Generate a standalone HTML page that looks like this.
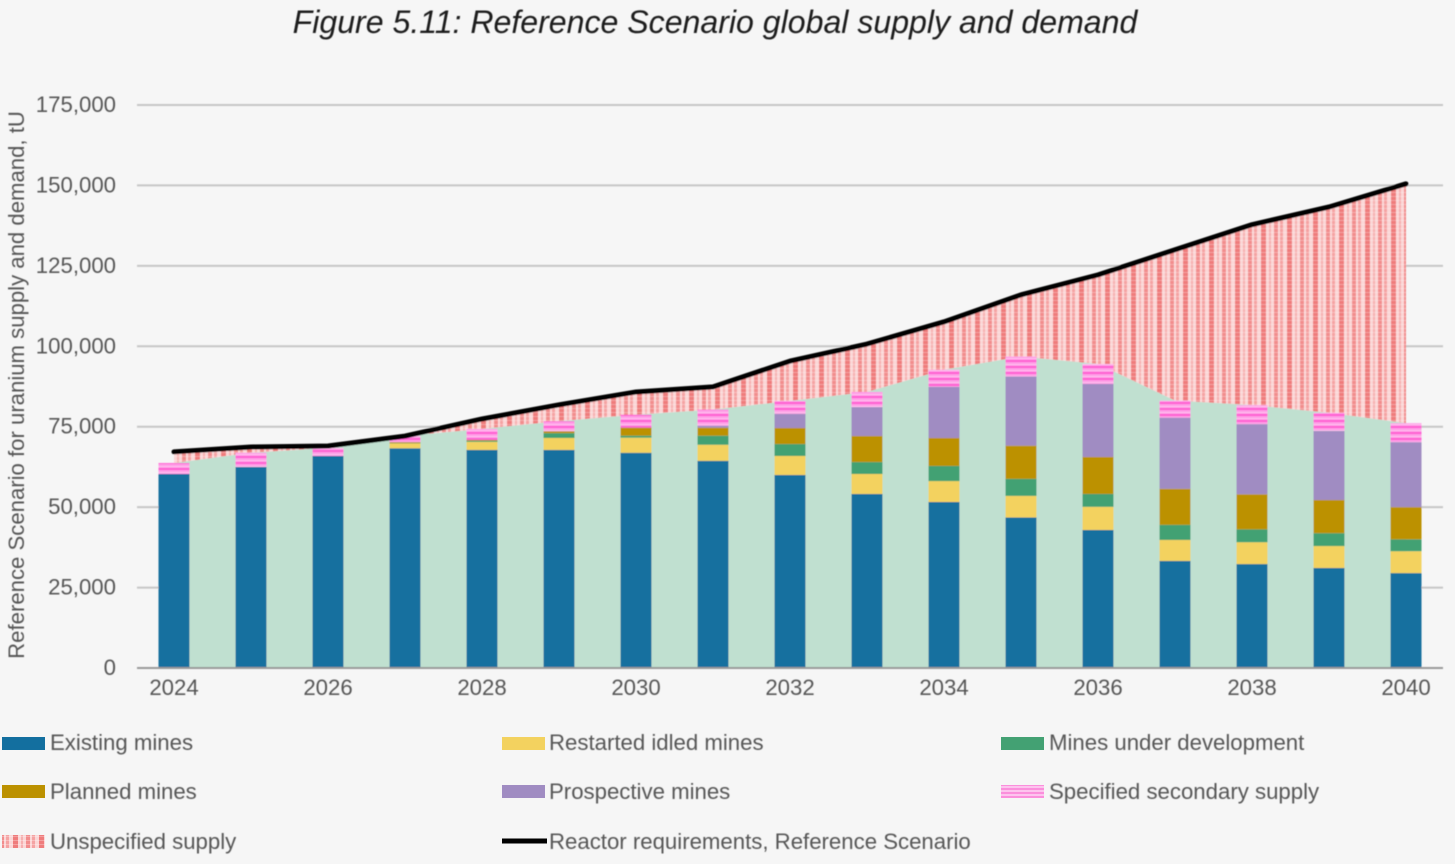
<!DOCTYPE html>
<html lang="en">
<head>
<meta charset="utf-8">
<title>Figure 5.11: Reference Scenario global supply and demand</title>
<style>
html,body{margin:0;padding:0;background:#f6f6f6;width:1455px;height:864px;overflow:hidden}
svg{display:block;font-family:"Liberation Sans",sans-serif}
.lbl{fill:#565656;font-size:22.2px;filter:url(#soft)}
</style>
</head>
<body>
<svg id="chart" width="1455" height="864" viewBox="0 0 1455 864" xmlns="http://www.w3.org/2000/svg">
<defs>
<filter id="soft" x="-5%" y="-30%" width="110%" height="160%"><feGaussianBlur stdDeviation="0.5"/></filter>
<filter id="softer" x="-2%" y="-2%" width="104%" height="104%"><feGaussianBlur stdDeviation="0.55"/></filter>
<pattern id="unspecified-pattern" patternUnits="userSpaceOnUse" width="26" height="4">
<rect width="26" height="4" fill="#fbd6d6"/>
<rect x="0" width="4" height="4" fill="#f28d8d"/>
<rect x="6" width="3" height="4" fill="#f5a3a3"/>
<rect x="13" width="5" height="4" fill="#ef7c7c"/>
<rect x="21" width="2" height="4" fill="#f6b0b0"/>
<rect x="0" y="0" width="26" height="1" fill="#fff" opacity=".28"/>
</pattern>
<pattern id="secondary-pattern" patternUnits="userSpaceOnUse" width="10" height="6">
<rect width="10" height="6" fill="#ff9be6"/>
<rect y="0" width="10" height="2" fill="#ff5ed2"/>
<rect y="4" width="10" height="1" fill="#ffc0ee"/>
</pattern>
<pattern id="secondary-legend-pattern" patternUnits="userSpaceOnUse" width="10" height="4">
<rect width="10" height="4" fill="#fdc4ee"/>
<rect y="0" width="10" height="2" fill="#fb8fdc"/>
</pattern>
</defs>
<rect width="1455" height="864" fill="#f6f6f6"/>
<text x="715" y="33" text-anchor="middle" font-size="32.1" font-style="italic" fill="#1c1c1c" filter="url(#soft)">Figure 5.11: Reference Scenario global supply and demand</text>
<text class="lbl" transform="translate(24,385) rotate(-90)" text-anchor="middle" style="font-size:22.15px">Reference Scenario for uranium supply and demand, tU</text>
<g id="plot" filter="url(#softer)"></g>
<g id="axes"></g>

<g>
<g>
<rect x="2" y="737" width="43" height="13" fill="#136f9f"/>
<text class="lbl" x="50" y="750">Existing mines</text>
</g>
<g>
<rect x="502" y="737" width="43" height="13" fill="#f3d25f"/>
<text class="lbl" x="549" y="750">Restarted idled mines</text>
</g>
<g>
<rect x="1001" y="737" width="43" height="13" fill="#43a173"/>
<text class="lbl" x="1049" y="750">Mines under development</text>
</g>
<g>
<rect x="2" y="785" width="43" height="13" fill="#bc9100"/>
<text class="lbl" x="50" y="799">Planned mines</text>
</g>
<g>
<rect x="502" y="785" width="43" height="13" fill="#a08cc2"/>
<text class="lbl" x="549" y="799">Prospective mines</text>
</g>
<g>
<rect x="1001" y="785" width="43" height="13" fill="url(#secondary-legend-pattern)"/>
<text class="lbl" x="1049" y="799">Specified secondary supply</text>
</g>
<g>
<rect x="2" y="835" width="43" height="13" fill="url(#unspecified-pattern)"/>
<text class="lbl" x="50" y="849">Unspecified supply</text>
</g>
<g>
<line x1="502" y1="841" x2="547" y2="841" stroke="#000" stroke-width="5"/>
<text class="lbl" x="549" y="849">Reactor requirements, Reference Scenario</text>
</g>
</g>
</svg>
<script>
const years = [2024,2025,2026,2027,2028,2029,2030,2031,2032,2033,2034,2035,2036,2037,2038,2039,2040];
const existingMines = [60300,62500,65900,68300,67800,67800,66900,64400,60000,54100,51600,46800,42900,33300,32300,31100,29500];
const restartedMines = [0,0,0,1500,2500,3700,4700,5000,5900,6200,6500,6700,7200,6500,6800,6800,6800];
const developmentMines = [0,0,0,100,300,1500,600,2800,3700,3700,4700,5300,4000,4700,4000,4000,3700];
const plannedMines = [0,0,0,300,300,600,2500,2500,5000,8100,8700,10300,11500,11200,10900,10300,10000];
const prospectiveMines = [0,0,0,0,0,0,0,600,4400,9000,15900,21500,22700,22100,21800,21500,20200];
const secondarySupply = [3400,4400,2500,1900,3400,3100,4000,5000,4000,4700,5300,6200,6200,5300,5900,5600,5900];
const reactorRequirements = [67200,68700,69000,72100,77400,81800,85800,87400,95400,100700,107600,116000,122200,130000,137800,143300,150500];
const yTicks = [0,25000,50000,75000,100000,125000,150000,175000];
const xTickLabels = [2024,2026,2028,2030,2032,2034,2036,2038,2040];

const NS = 'http://www.w3.org/2000/svg';
const plot = document.getElementById('plot');
const axes = document.getElementById('axes');
const y0 = 668, yTop = 105, yMax = 175000;
const x0 = 174, x1 = 1406;
const barW = 31;
const yScale = v => y0 - (v / yMax) * (y0 - yTop);
const xScale = yr => x0 + (yr - years[0]) / (years[years.length - 1] - years[0]) * (x1 - x0);

function make(tag, attrs, parent) {
  const el = document.createElementNS(NS, tag);
  for (const k in attrs) el.setAttribute(k, attrs[k]);
  parent.appendChild(el);
  return el;
}

yTicks.forEach(t => {
  const y = yScale(t);
  if (t > 0) {
    const g = make('line', {x1: 137, x2: 1443, y1: y, y2: y, stroke: '#c6c6c6', 'stroke-width': 2}, plot);
    
    
  }
  const lab = make('text', {x: 116, y: y + 7, 'text-anchor': 'end', class: 'lbl'}, axes);
  
  
  lab.textContent = t.toLocaleString('en-US');
});

const totals = years.map((_, i) => existingMines[i] + restartedMines[i] + developmentMines[i] + plannedMines[i] + prospectiveMines[i] + secondarySupply[i]);

const topPts = years.map((yr, i) => xScale(yr) + ',' + yScale(reactorRequirements[i]));
const totalPts = years.map((yr, i) => xScale(yr) + ',' + yScale(totals[i]));

const gap = make('polygon', {points: topPts.concat(totalPts.slice().reverse()).join(' '), fill: 'url(#unspecified-pattern)'}, plot);



const mint = make('polygon', {points: totalPts.concat([xScale(years[years.length - 1]) + ',' + y0, xScale(years[0]) + ',' + y0]).join(' '), fill: '#c0e0d0'}, plot);



const stackSeries = [
  {name: 'existing-mines', values: existingMines, fill: '#136f9f'},
  {name: 'restarted-idled-mines', values: restartedMines, fill: '#f3d25f'},
  {name: 'mines-under-development', values: developmentMines, fill: '#43a173'},
  {name: 'planned-mines', values: plannedMines, fill: '#bc9100'},
  {name: 'prospective-mines', values: prospectiveMines, fill: '#a08cc2'},
  {name: 'specified-secondary-supply', values: secondarySupply, fill: 'url(#secondary-pattern)'}
];

years.forEach((yr, i) => {
  let acc = 0;
  stackSeries.forEach(s => {
    const v = s.values[i];
    if (v <= 0) return;
    const top = yScale(acc + v), bottom = yScale(acc);
    const r = make('rect', {x: xScale(yr) - barW / 2, y: top, width: barW, height: bottom - top, fill: s.fill}, plot);
    
    
    acc += v;
  });
});

const baseLine = make('line', {x1: 137, x2: 1443, y1: y0, y2: y0, stroke: '#9a9a9a', 'stroke-width': 2}, plot);



const req = make('polyline', {points: topPts.join(' '), fill: 'none', stroke: '#000', 'stroke-width': 5, 'stroke-linecap': 'round', 'stroke-linejoin': 'round'}, plot);



xTickLabels.forEach(yr => {
  const lab = make('text', {x: xScale(yr), y: 695, 'text-anchor': 'middle', class: 'lbl'}, axes);
  
  
  lab.textContent = yr;
});
</script>
</body>
</html>
